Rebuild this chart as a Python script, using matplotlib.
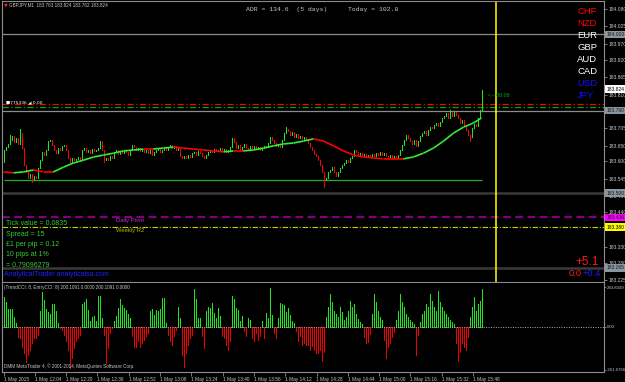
import numpy as np
import matplotlib
matplotlib.use("Agg")
import matplotlib.pyplot as plt
import matplotlib.transforms as mtransforms

plt.rcParams['font.family'] = ['Liberation Sans', 'DejaVu Sans']

# GBPJPY M1 closes, one per bar (first bar opens at first_open)
first_open = 183.598
closes = [
    183.636, 183.645, 183.655, 183.667, 183.680, 183.661, 183.674, 183.655, 183.689, 183.642,
    183.589, 183.567, 183.548, 183.560, 183.541, 183.554, 183.548, 183.579, 183.604, 183.630,
    183.620, 183.636, 183.664, 183.667, 183.652, 183.636, 183.626, 183.642, 183.636, 183.649,
    183.652, 183.636, 183.611, 183.598, 183.611, 183.604, 183.608, 183.614, 183.604, 183.636,
    183.642, 183.630, 183.636, 183.626, 183.639, 183.633, 183.636, 183.642, 183.664, 183.636,
    183.604, 183.611, 183.604, 183.617, 183.611, 183.630, 183.636, 183.623, 183.633, 183.626,
    183.636, 183.630, 183.620, 183.636, 183.652, 183.645, 183.636, 183.642, 183.633, 183.639,
    183.630, 183.636, 183.626, 183.636, 183.620, 183.630, 183.636, 183.639, 183.630, 183.636,
    183.642, 183.636, 183.645, 183.652, 183.642, 183.649, 183.636, 183.642, 183.617, 183.611,
    183.617, 183.611, 183.620, 183.614, 183.626, 183.630, 183.620, 183.633, 183.626, 183.617,
    183.611, 183.620, 183.630, 183.636, 183.630, 183.639, 183.633, 183.636, 183.642, 183.633,
    183.639, 183.630, 183.636, 183.645, 183.674, 183.661, 183.642, 183.652, 183.636, 183.645,
    183.655, 183.642, 183.636, 183.649, 183.642, 183.649, 183.639, 183.645, 183.636, 183.642,
    183.649, 183.645, 183.658, 183.677, 183.667, 183.658, 183.649, 183.655, 183.645, 183.667,
    183.689, 183.702, 183.696, 183.683, 183.693, 183.677, 183.686, 183.674, 183.680, 183.671,
    183.677, 183.667, 183.658, 183.645, 183.636, 183.623, 183.617, 183.604, 183.589, 183.567,
    183.541, 183.548, 183.567, 183.573, 183.582, 183.567, 183.554, 183.567, 183.579, 183.589,
    183.595, 183.604, 183.598, 183.611, 183.617, 183.636, 183.630, 183.620, 183.626, 183.617,
    183.623, 183.614, 183.620, 183.614, 183.623, 183.617, 183.626, 183.620, 183.630, 183.620,
    183.626, 183.617, 183.614, 183.620, 183.611, 183.617, 183.611, 183.620, 183.636, 183.652,
    183.667, 183.683, 183.674, 183.664, 183.655, 183.667, 183.649, 183.664, 183.680, 183.689,
    183.696, 183.683, 183.699, 183.708, 183.705, 183.715, 183.721, 183.712, 183.724, 183.737,
    183.743, 183.752, 183.737, 183.756, 183.743, 183.756, 183.746, 183.737, 183.721, 183.730,
    183.715, 183.699, 183.683, 183.677, 183.705, 183.718, 183.712, 183.737, 183.763, 183.824,
]
wick_high = {3: 183.683, 8: 183.702, 141: 183.708, 223: 183.762}
wick_low = {14: 183.535, 160: 183.519, 50: 183.598, 233: 183.664}

# moving average, sampled every 5 bars
ma_bars = [0, 5, 10, 15, 20, 25, 30, 35, 40, 45, 50, 55, 60, 65, 70, 75, 80, 85, 90, 95,
           100, 105, 110, 115, 120, 125, 130, 135, 140, 145, 150, 155, 160, 165, 170, 175,
           180, 185, 190, 195, 200, 205, 210, 215, 220, 225, 230, 235, 239]
ma_values = [183.567, 183.564, 183.567, 183.573, 183.567, 183.567, 183.582, 183.595, 183.604,
             183.614, 183.620, 183.626, 183.633, 183.636, 183.639, 183.639, 183.642, 183.645,
             183.642, 183.639, 183.636, 183.633, 183.630, 183.633, 183.633, 183.636, 183.642,
             183.649, 183.655, 183.658, 183.664, 183.671, 183.664, 183.649, 183.633, 183.620,
             183.614, 183.611, 183.608, 183.608, 183.608, 183.614, 183.626, 183.642, 183.664,
             183.689, 183.708, 183.721, 183.737]

# CCI histogram
cci = [
    180, 155, 108, 108, 108, 63, 24,
    -59, -67, -120, -160, -211, -171, -139, -98, -67, -67, -47,
    100, 215, 165, 108, 90, 78, 138, 138, 96, 24,
    -6, -16, -47, -88, -139, -252, -191, -130, -88, -67, -47,
    138, 150, 172, 105, 35, 58, 65, 35, 192, 192, 55,
    -47, -220, -128, -37, -6,
    35, 65, 116, 170, 136, 116, 106, 80, 55,
    -57, -120, -120, -88, -120, -98, -78, -57, -37,
    100, 110, 75, 102, 100, 110, 175, 175, 24,
    -47, -88, -108, -57, -16,
    120, 55,
    -170, -242, -160, -108, -67, -47,
    230, 172, 55, 55,
    -57, -128,
    96, 120, 116, 148, 86, 55, 116, 65,
    -57, -67, -108, -139, -88,
    188, 168, 116, 106, 35, 65,
    -27, -57,
    55, 45,
    -67, -88, -37, -78, -57,
    38, -67,
    86, 55, 240, 75, -37, -67,
    55, 148, 140, 132, 92, 116, 75, 35, 24,
    -27, -88, -57, -108, -98, -108, -108, -139, -118, -139, -160, -160, -139, -207, -150,
    60, 120, 200, 150, 100, 80, 60, 120, 90, 40,
    60, 100, 160, 120, 140, 80, 50, 30, 20,
    -60, -100, -90, -40,
    80, 200, 150, 100, 60, 40,
    -80, -189, -120, -100, -60, -30,
    40, 100, 200, 150, 120, 80, 60, 40, 30, 20,
    -171, -50,
    30, 80, 100, 140, 120, 200, 160, 120, 100, 220, 150, 120, 100, 80, 60, 40, 30, 20,
    -100, -207, -150, -100, -120, -140, -60,
    60, 120, 180, 100, 140, 160, 230,
]

time_labels = ['1 May 2015', '1 May 12:04', '1 May 12:20', '1 May 12:36', '1 May 12:52',
               '1 May 13:08', '1 May 13:24', '1 May 13:40', '1 May 13:56', '1 May 14:12',
               '1 May 14:28', '1 May 14:44', '1 May 15:00', '1 May 15:16', '1 May 15:32',
               '1 May 15:48']
price_ticks = [184.080, 184.025, 183.970, 183.920, 183.865, 183.810, 183.705, 183.650,
               183.600, 183.545, 183.490, 183.440, 183.330, 183.280, 183.225]
currencies = ['CHF', 'NZD', 'EUR', 'GBP', 'AUD', 'CAD', 'USD', 'JPY']
currency_colors = ['#ff0000', '#ff0000', 'white', 'white', 'white', 'white', '#1010ff', '#1010ff']
info_lines = ['Tick value = 0.0835', 'Spread = 15', '£1 per pip = 0.12', '10 pips at 1%',
              '= 0.79096279']

GREEN = '#1ee61e'
RED = '#ff0000'
GRID = '#8c8c8c'
TXT = '#c8c8c8'

W, H = 625, 382
fig = plt.figure(figsize=(W / 100, H / 100), dpi=100, facecolor='black')


def rect(x0, y0, x1, y1):
    return [x0 / W, 1 - y1 / H, (x1 - x0) / W, (y1 - y0) / H]


def ftext(x, y, s, **kw):
    fig.text(x / W, 1 - y / H, s, va='center', **kw)


ax = fig.add_axes(rect(2, 1, 604, 282))
ax2 = fig.add_axes(rect(2, 283, 604, 372))
for a in (ax, ax2):
    a.set_facecolor('black')
    for s in a.spines.values():
        s.set_color(GRID)
        s.set_linewidth(0.8)
    a.set_xlim(-0.75, 300.25)
ax2.spines['top'].set_visible(False)

# candles
c = np.array(closes)
o = np.array([first_open] + closes[:-1])
x = np.arange(len(c))
lo = np.minimum(o, c)
hi = np.maximum(o, c)
hi = np.where(hi - lo < 0.003, lo + 0.003, hi)
cols = np.where(c >= o, GREEN, RED)
ax.vlines(x, lo, hi, colors=cols, lw=0.6, zorder=4, antialiased=False)
for i, v in wick_high.items():
    ax.vlines(i, hi[i], v, colors=cols[i], lw=0.6, zorder=4, antialiased=False)
for i, v in wick_low.items():
    ax.vlines(i, v, lo[i], colors=cols[i], lw=0.6, zorder=4, antialiased=False)

# moving average, coloured by slope
for k in range(len(ma_bars) - 1):
    col = '#33ee33' if ma_values[k + 1] > ma_values[k] else RED
    ax.plot(ma_bars[k:k + 2], ma_values[k:k + 2], color=col, lw=1.2, zorder=5,
            solid_capstyle='butt')

# levels
ax.axhline(184.000, color=GRID, lw=0.9)
ax.axhline(183.760, color=GRID, lw=0.9)
ax.axhline(183.500, color='#3a3a3a', lw=1.8)
ax.axhline(183.265, color='#3a3a3a', lw=1.8)
ax.axhline(183.781, color='#ff0000', lw=0.9, ls=(0, (5, 2, 1, 2)))
ax.axhline(183.771, color='#00aa00', lw=0.9, ls=(0, (5, 2, 1, 2)))
ax.hlines(183.541, 0, len(c) - 1, color='#22b022', lw=0.9)
ax.axhline(183.424, color='#800080', lw=1.6, ls=(0, (3.5, 2)))
ax.axhline(183.393, color='#cccc00', lw=0.8, ls=(0, (5, 1.5, 1, 1.5)))
ax.axvline(246, color='#ffff00', lw=1.1)
ax.set_ylim(183.2202, 184.1052)

ax.text(56, 183.4154, 'Daily Pivot', color='#cc33cc', fontsize=4.2, va='center')
ax.text(56, 183.3810, 'Weekly R2', color='#b8b800', fontsize=4.2, va='center')
ax.text(1, 183.787, '\u25a0775336 \u25e2 0.00', color='white', fontsize=3.2, va='center',
        family=['DejaVu Sans'])
ax.text(242, 183.809, '<-- 00:08', color='#00b000', fontsize=3.8, va='center')

ax.yaxis.tick_right()
ax.set_yticks(price_ticks)
ax.set_yticklabels(['%.3f' % p for p in price_ticks])
ax.tick_params(axis='y', colors=GRID, labelcolor=TXT, labelsize=3.6, length=2, width=0.6, pad=1)
ax.set_xticks([])

tr = mtransforms.blended_transform_factory(ax.transAxes, ax.transData)
boxes = [(184.000, '184.000', '#8a96a0', '#1a1a1a'), (183.828, '183.824', 'white', 'black'),
         (183.760, '183.760', '#8a96a0', '#1a1a1a'), (183.500, '183.500', '#8a96a0', '#1a1a1a'),
         (183.424, '183.436', '#ff00ff', '#1a1a1a'), (183.393, '183.380', '#ffff00', 'black'),
         (183.265, '183.265', '#8a96a0', '#1a1a1a')]
for p, s, fc, tc in boxes:
    ax.text(1.004, p, s, transform=tr, color=tc, fontsize=3.6, va='center', ha='left',
            clip_on=False, zorder=6,
            bbox=dict(boxstyle='square,pad=0.25', fc=fc, ec='none'))

# CCI pane
v = np.array(cci)
xb = np.arange(len(v))
ax2.vlines(xb, 0, v, colors=np.where(v >= 0, '#1ee61e', '#f00000'), lw=0.6,
           antialiased=False)
ax2.axhline(0, color='#b0b0b0', lw=0.7, ls=(0, (1, 1.5)))
ax2.set_ylim(-274.4, 268.3)
ax2.yaxis.tick_right()
ax2.set_yticks([243.8049, 0, -261.6766])
ax2.set_yticklabels(['243.8049', '0.00', '-261.6766'])
ax2.tick_params(axis='y', colors=GRID, labelcolor=TXT, labelsize=3.1, length=1.5, width=0.6, pad=0.8)
tick_pos = np.arange(len(time_labels)) * 15.65
ax2.set_xticks(tick_pos)
ax2.set_xticklabels(time_labels, ha='left')
ax2.tick_params(axis='x', colors=GRID, labelcolor=TXT, labelsize=3.4, length=3, width=0.6, pad=0.5)
ax2.text(0.003, 0.95, '(TrendCCI: 8, EntryCCI: 8) 200.1091 0.0000 200.1091 0.0000',
         transform=ax2.transAxes, color=TXT, fontsize=3.3, va='center')
ax2.text(0.003, 0.06, 'DMM MetaTrader 4, \u00a9 2001-2014, MetaQuotes Software Corp.',
         transform=ax2.transAxes, color=TXT, fontsize=3.3, va='center')

# header and overlays
ftext(4, 5, '\u25bc', color='#ff2020', fontsize=3.5, family=['DejaVu Sans'])
ftext(9, 5, 'GBPJPY,M1  183.763 183.824 183.762 183.824', color=TXT, fontsize=3.3)
ftext(246, 10, 'ADR = 134.6  (5 days)', color=TXT, fontsize=4.6, family=['Liberation Mono'])
ftext(348, 10, 'Today = 102.8', color=TXT, fontsize=4.6, family=['Liberation Mono'])
for k, (name, col) in enumerate(zip(currencies, currency_colors)):
    ftext(577, 11 + k * 12.1, name, color=col, fontsize=6.8)
for k, line in enumerate(info_lines):
    ftext(6, 224 + k * 10.3, line, color='#33cc33', fontsize=5)
ftext(4, 274, 'AnalyticalTrader analyticalsa.com', color='#2020ff', fontsize=5)
ftext(575, 262, '+5.1', color='#ff1a1a', fontsize=8.5)
ftext(569, 273, '0.0', color='#ff1a1a', fontsize=6.8)
ftext(583, 273, '+0.4', color='#1a1aff', fontsize=6.8)

fig.savefig('out.png', dpi=100, facecolor='black')
